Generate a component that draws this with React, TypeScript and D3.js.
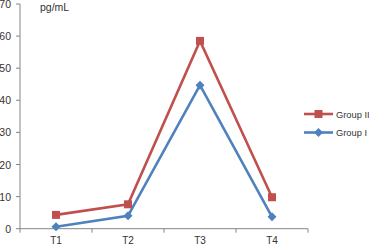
import React from "react";
import * as d3 from "d3";

const categories = ["T1", "T2", "T3", "T4"];
const groupII = [4.3, 7.6, 58.5, 9.8];
const groupI = [0.6, 4.0, 44.7, 3.7];
const yTicks = [0, 10, 20, 30, 40, 50, 60, 70];

export default function App() {
  const W = 369, H = 245;
  const x0 = 20, x1 = 308, yTop = 4, yBot = 228.7;
  const x = d3.scaleBand().domain(categories).range([x0, x1]);
  const y = d3.scaleLinear().domain([0, 70]).range([yBot, yTop]);
  const cx = (c: string) => (x(c) as number) + x.bandwidth() / 2;
  const line = d3.line<number>().x((_, i) => cx(categories[i])).y((d) => y(d));
  const red = "#C0504D", blue = "#4F81BD";
  const font = "Liberation Sans, Arial, sans-serif";
  const bounds = [x0, ...categories.map((c) => (x(c) as number) + x.bandwidth())];
  const diamond = (px: number, py: number, r: number) =>
    `M${px},${py - r}L${px + r},${py}L${px},${py + r}L${px - r},${py}Z`;
  return (
    <svg width={W} height={H} style={{ position: "absolute", left: 0, top: 0 }}>
      <rect width={W} height={H} fill="#fff" />
      <line x1={x0} x2={x0} y1={yTop} y2={yBot} stroke="#868686" />
      <line x1={x0} x2={x1} y1={yBot} y2={yBot} stroke="#868686" />
      {yTicks.map((t) => (
        <g key={t}>
          <line x1={x0 - 4} x2={x0} y1={y(t)} y2={y(t)} stroke="#868686" />
          <text x={x0 - 9} y={y(t) + 4} textAnchor="end" fontSize={10.5} fontFamily={font} fill="#333">
            {t}
          </text>
        </g>
      ))}
      {bounds.map((b, i) => (
        <line key={i} x1={b} x2={b} y1={yBot} y2={yBot + 4} stroke="#868686" />
      ))}
      {categories.map((c) => (
        <text key={c} x={cx(c)} y={yBot + 15} textAnchor="middle" fontSize={10} fontFamily={font} fill="#333">
          {c}
        </text>
      ))}
      <text x={40} y={11} fontSize={10.5} fontFamily={font} fill="#333">pg/mL</text>
      <path d={line(groupII) || ""} fill="none" stroke={red} strokeWidth={2.6} />
      <path d={line(groupI) || ""} fill="none" stroke={blue} strokeWidth={2.6} />
      {groupII.map((v, i) => (
        <rect key={i} x={cx(categories[i]) - 4} y={y(v) - 4} width={8} height={8} fill={red} />
      ))}
      {groupI.map((v, i) => (
        <path key={i} d={diamond(cx(categories[i]), y(v), 4.5)} fill={blue} />
      ))}
      <line x1={304} x2={333} y1={114} y2={114} stroke={red} strokeWidth={2.6} />
      <rect x={314.5} y={110} width={8} height={8} fill={red} />
      <text x={336} y={117.5} fontSize={9.3} fontFamily={font} fill="#333">Group II</text>
      <line x1={304} x2={333} y1={132.5} y2={132.5} stroke={blue} strokeWidth={2.6} />
      <path d={diamond(318.5, 132.5, 4.5)} fill={blue} />
      <text x={336} y={136} fontSize={9.3} fontFamily={font} fill="#333">Group I</text>
    </svg>
  );
}
